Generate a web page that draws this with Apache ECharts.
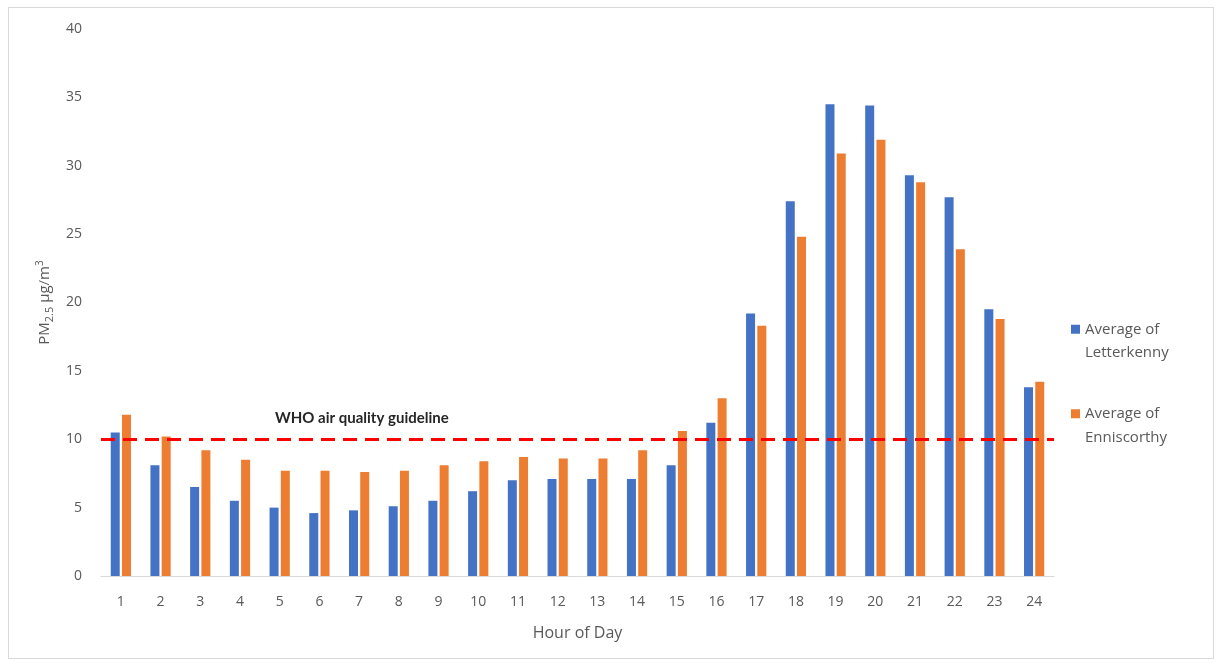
<!DOCTYPE html>
<html>
<head>
<meta charset="utf-8">
<script src="https://cdn.jsdelivr.net/npm/echarts@6/dist/echarts.min.js"></script>
<style>
html,body{margin:0;padding:0;background:#fff;}
#frame{position:absolute;left:8px;top:7px;width:1206px;height:652px;border:1px solid #d9d9d9;box-sizing:border-box;}
#chart{position:absolute;left:0;top:0;width:1217px;height:664px;}
</style>
</head>
<body>
<div id="frame"></div>
<div id="chart"></div>
<script>
const hours = ['1','2','3','4','5','6','7','8','9','10','11','12','13','14','15','16','17','18','19','20','21','22','23','24'];
const letterkenny = [10.5, 8.1, 6.5, 5.5, 5.0, 4.6, 4.8, 5.1, 5.5, 6.2, 7.0, 7.1, 7.1, 7.1, 8.1, 11.2, 19.2, 27.4, 34.5, 34.4, 29.3, 27.7, 19.5, 13.8];
const enniscorthy = [11.8, 10.2, 9.2, 8.5, 7.7, 7.7, 7.6, 7.7, 8.1, 8.4, 8.7, 8.6, 8.6, 9.2, 10.6, 13.0, 18.3, 24.8, 30.9, 31.9, 28.8, 23.9, 18.8, 14.2];
const seriesNames = ['Average of Letterkenny', 'Average of Enniscorthy'];
const guideline = 10;
const guidelineLabel = 'WHO air quality guideline';
const yTicks = [0, 40, 5];

const font = '"Open Sans", Lato, sans-serif';
const grey = '#595959';
const chart = echarts.init(document.getElementById('chart'));
chart.setOption({
  animation: false,
  textStyle: {fontFamily: font},
  grid: {left: 101, right: 163, top: 29, bottom: 88},
  legend: {
    orient: 'vertical', left: 1066, top: 289, itemWidth: 9, itemHeight: 9, itemGap: 14,
    icon: 'rect',
    formatter: n => '\n' + n.replace(' of ', ' of\n'),
    textStyle: {color: grey, fontSize: 15, lineHeight: 23.5, fontFamily: font}
  },
  xAxis: {
    type: 'category', data: hours,
    name: 'Hour of Day', nameLocation: 'middle', nameGap: 49,
    nameTextStyle: {color: grey, fontSize: 16, fontFamily: font},
    axisLine: {lineStyle: {color: '#d9d9d9', width: 1}},
    axisTick: {show: false},
    axisLabel: {color: grey, fontSize: 14, margin: 19, fontFamily: font}
  },
  yAxis: {
    type: 'value', min: yTicks[0], max: yTicks[1], interval: yTicks[2],
    name: '{a|PM}{s|2.5}{a| µg/m}{p|3}', nameLocation: 'middle', nameGap: 44,
    nameTextStyle: {
      color: grey, fontSize: 15, fontFamily: font,
      rich: {
        a: {fontSize: 15, color: grey, fontFamily: font, verticalAlign: 'middle', lineHeight: 20},
        s: {fontSize: 11, color: grey, fontFamily: font, verticalAlign: 'bottom', lineHeight: 20},
        p: {fontSize: 10, color: grey, fontFamily: font, verticalAlign: 'top', lineHeight: 20}
      }
    },
    axisLine: {show: false}, axisTick: {show: false},
    splitLine: {show: false},
    axisLabel: {color: grey, fontSize: 14, margin: 19, fontFamily: font}
  },
  series: [
    {
      name: seriesNames[0], type: 'bar', data: letterkenny, barWidth: 9, barGap: '25%',
      itemStyle: {color: '#4472C4'},
      markLine: {
        silent: true, symbol: 'none',
        lineStyle: {color: '#ff0000', width: 3, type: [14, 8]},
        label: {show: false},
        data: [{yAxis: guideline}]
      },
      z: 2
    },
    {
      name: seriesNames[1], type: 'bar', data: enniscorthy, barWidth: 9,
      itemStyle: {color: '#ED7D31'}
    }
  ],
  graphic: [{
    type: 'text', left: 275, top: 411,
    style: {text: guidelineLabel, fill: '#262626', font: 'bold 15px Lato, sans-serif'}
  }]
});
</script>
</body>
</html>
